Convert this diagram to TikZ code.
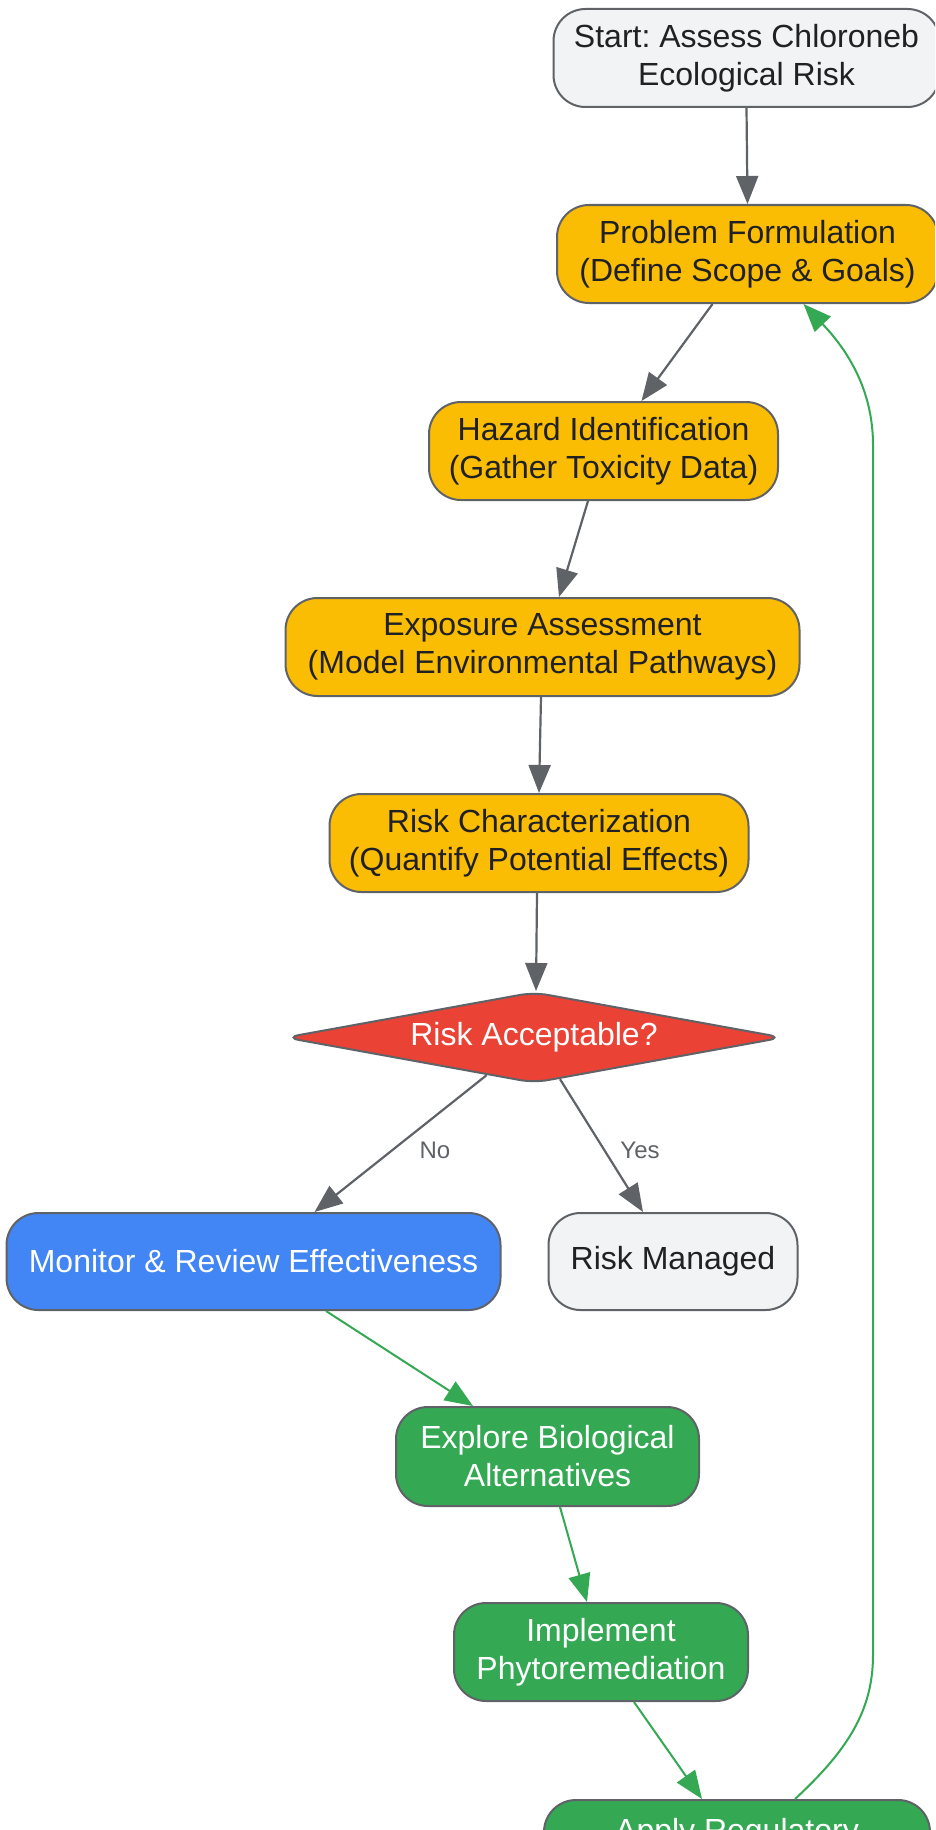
\documentclass[tikz,border=0pt]{standalone}
\usepackage{fontspec}
\setmainfont{Liberation Sans}
\usetikzlibrary{shapes.geometric,arrows.meta,calc}
\definecolor{edgegray}{HTML}{5F6368}
\definecolor{txtdark}{HTML}{202124}
\definecolor{lightgray}{HTML}{F1F3F4}
\definecolor{gyellow}{HTML}{FBBC04}
\definecolor{gred}{HTML}{EA4335}
\definecolor{gblue}{HTML}{4285F4}
\definecolor{ggreen}{HTML}{34A853}
\newcommand\nodefont{\fontsize{32}{38}\selectfont\frenchspacing}
\newcommand\labfont{\fontsize{24}{28}\selectfont}
\tikzset{
  basebox/.style={draw=edgegray, line width=2pt, rounded corners=32pt, inner sep=0pt,
    align=center, font=\nodefont, text=txtdark},
  greybox/.style={basebox, fill=lightgray},
  yellowbox/.style={basebox, fill=gyellow},
  bluebox/.style={basebox, fill=gblue, text=white},
  greenbox/.style={basebox, fill=ggreen, text=white},
  decisionbox/.style={diamond, aspect=5.5, draw=edgegray, line width=2pt, fill=gred,
    text=white, font=\nodefont, inner sep=0pt, rounded corners=14pt},
  grayarrow/.style={draw=edgegray, line width=2.2pt, -{Triangle[length=28pt,width=22pt]}},
  greenarrow/.style={draw=ggreen, line width=2pt, -{Triangle[length=28pt,width=22pt]}},
  edgelabel/.style={font=\labfont, text=edgegray, inner sep=1pt},
}
\begin{document}
\begin{tikzpicture}[x=1pt,y=-1pt]
\useasboundingbox (0,0) rectangle (935,1830);
\clip (0,0) rectangle (935,1830);
\fill[white] (0,0) rectangle (935,1830);

\node[greybox, minimum width=386pt, minimum height=98pt] (start) at (746.5,58) {Start: Assess Chloroneb\\Ecological Risk};
\node[yellowbox, minimum width=381pt, minimum height=98pt] (prob) at (747.5,254) {Problem Formulation\\(Define Scope \& Goals)};
\node[yellowbox, minimum width=349pt, minimum height=98pt] (haz) at (603.5,451) {Hazard Identification\\(Gather Toxicity Data)};
\node[yellowbox, minimum width=514pt, minimum height=98pt] (expo) at (542.5,647) {Exposure Assessment\\(Model Environmental Pathways)};
\node[yellowbox, minimum width=419pt, minimum height=98pt] (rc) at (539,843) {Risk Characterization\\(Quantify Potential Effects)};
\node[decisionbox, minimum width=498pt, minimum height=91pt] (dia) at (534,1037.5) {Risk Acceptable?};
\node[bluebox, minimum width=494pt, minimum height=97pt] (mon) at (253.5,1261.5) {Monitor \& Review Effectiveness};
\node[greybox, minimum width=249pt, minimum height=97pt] (rm) at (673,1261.5) {Risk Managed};
\node[greenbox, minimum width=303pt, minimum height=99pt] (expl) at (547.5,1456.5) {Explore Biological\\Alternatives};
\node[greenbox, minimum width=294pt, minimum height=98pt] (impl) at (601,1652) {Implement\\Phytoremediation};
\node[greenbox, minimum width=386pt, minimum height=98pt] (apply) at (737,1849) {Apply Regulatory\\\mbox{}};

\draw[grayarrow] (start.south) -- (prob.north);
\draw[grayarrow] ([xshift=-35pt]prob.south) -- ([xshift=38pt]haz.north);
\draw[grayarrow] ([xshift=-15.5pt]haz.south) -- ([xshift=16.5pt]expo.north);
\draw[grayarrow] ([xshift=-1.5pt]expo.south) -- (rc.north);
\draw[grayarrow] ([xshift=-2pt]rc.south) -- ([xshift=2pt]dia.north);
\draw[grayarrow] (dia) -- ([xshift=61pt]mon.north);
\draw[grayarrow] (dia) -- ([xshift=-30pt]rm.north);
\node[edgelabel] (lno) at (435,1150) {No};
\node[edgelabel] (lyes) at (640,1150) {Yes};
\draw[greenarrow] ([xshift=72.5pt]mon.south) -- ([xshift=-74.5pt]expl.north);
\draw[greenarrow] ([xshift=12.5pt]expl.south) -- ([xshift=-14pt]impl.north);
\draw[greenarrow] ([xshift=33pt]impl.south) -- ([xshift=-35pt]apply.north);
\draw[greenarrow] ([xshift=58pt]apply.north) .. controls (848,1750) and (873,1710) .. (873,1655)
   -- (873,445) .. controls (873,395) and (852,355) .. ([xshift=56pt]prob.south);
\end{tikzpicture}
\end{document}
